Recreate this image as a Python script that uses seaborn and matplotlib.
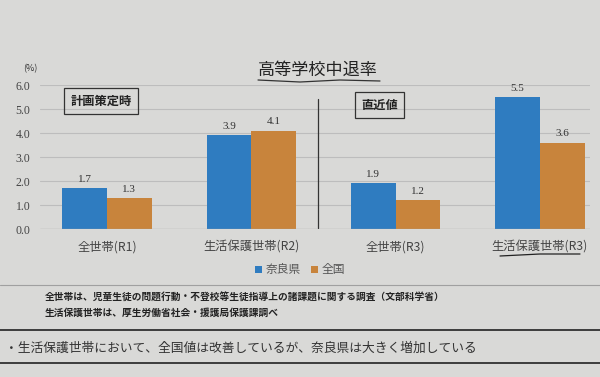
import numpy as np
import pandas as pd
import matplotlib
matplotlib.use('Agg')
import matplotlib.pyplot as plt
import seaborn as sns

# ── data ────────────────────────────────────────────────────────────
categories = ['全世帯(R1)', '生活保護世帯(R2)', '全世帯(R3)', '生活保護世帯(R3)']
series = ['奈良県', '全国']
nara = [1.7, 3.9, 1.9, 5.5]
zenkoku = [1.3, 4.1, 1.2, 3.6]
yticks = [0.0, 1.0, 2.0, 3.0, 4.0, 5.0, 6.0]

df = pd.DataFrame({
    'cat': categories * 2,
    'series': [series[0]] * 4 + [series[1]] * 4,
    'value': nara + zenkoku,
})

sns.set_theme(style='white')
plt.rcParams['font.family'] = ['Noto Sans CJK JP', 'DejaVu Sans']

BG = '#d9d9d7'
PAL = {'奈良県': '#2f7cc0', '全国': '#c8843c'}

fig = plt.figure(figsize=(6.0, 3.77), dpi=100, facecolor=BG)
ax = fig.add_axes([40 / 600, 1 - 229 / 377, 550 / 600, 144 / 377])
ax.set_facecolor(BG)

sns.barplot(data=df, x='cat', y='value', hue='series', order=categories,
            hue_order=series, palette=PAL, width=0.62, gap=0,
            saturation=1, ax=ax, legend=True, linewidth=0, edgecolor='none')

for c in ax.containers:
    ax.bar_label(c, fmt='%.1f', padding=3, fontsize=8, color='#333333',
                 family='Liberation Serif')

ax.set_ylim(0, 6.0)
ax.set_xlim(-0.464, 3.347)
ax.set_yticks(yticks)
ax.set_yticklabels([f'{v:.1f}' for v in yticks], family='Liberation Serif',
                   fontsize=8.5, color='#444444')
ax.yaxis.grid(True, color='#bdbdbd', lw=0.8)
ax.set_axisbelow(True)
for s in ax.spines.values():
    s.set_visible(False)
ax.axhline(0, color='#a8a8a8', lw=0.9)
ax.tick_params(axis='x', length=0, pad=8, labelsize=8.8, labelcolor='#444444')
ax.tick_params(axis='y', length=0, pad=7)
ax.set_xlabel('')
ax.set_ylabel('')

# period boxes and separator
box = dict(boxstyle='square,pad=0.5', fc='none', ec='#333333', lw=0.9)
ax.text(-0.04, 5.33, '計画策定時', ha='center', va='center', fontsize=8.8,
        fontweight='bold', color='#222222', bbox=box)
ax.text(1.89, 5.17, '直近値', ha='center', va='center', fontsize=8.8,
        fontweight='bold', color='#222222', bbox=box)
ax.plot([1.462, 1.462], [0.05, 5.4], color='#333333', lw=0.9)

# legend
h, l = ax.get_legend_handles_labels()
ax.get_legend().remove()
leg = fig.legend(h, l, loc='center', bbox_to_anchor=(0.5, 1 - 270 / 377),
                 ncol=2, frameon=False, fontsize=8.5, handlelength=0.6,
                 handleheight=0.6, columnspacing=0.8, handletextpad=0.3)
for t in leg.get_texts():
    t.set_color('#555555')

# titles
fig.text(318 / 600, 1 - 70 / 377, '高等学校中退率', ha='center', va='center',
         fontsize=12.3, color='#222222')
fig.text(30 / 600, 1 - 69 / 377, '(%)', ha='center', va='center',
         fontsize=6.5, color='#333333')
# hand-drawn underlines
fig.add_artist(plt.Line2D([258 / 600, 300 / 600, 340 / 600, 380 / 600],
                          [1 - 80 / 377, 1 - 82 / 377, 1 - 80 / 377, 1 - 81 / 377],
                          color='#333333', lw=0.9))
fig.add_artist(plt.Line2D([500 / 600, 540 / 600, 580 / 600],
                          [1 - 256 / 377, 1 - 254 / 377, 1 - 254 / 377],
                          color='#222222', lw=0.9))

# notes
fig.add_artist(plt.Line2D([0, 1], [1 - 285 / 377] * 2, color='#a0a0a0', lw=0.8))
fig.text(45 / 600, 1 - 298 / 377,
         '全世帯は、児童生徒の問題行動・不登校等生徒指導上の諸課題に関する調査（文部科学省）',
         ha='left', va='center', fontsize=7, fontweight='bold', color='#222222')
fig.text(45 / 600, 1 - 313 / 377, '生活保護世帯は、厚生労働省社会・援護局保護課調べ',
         ha='left', va='center', fontsize=7, fontweight='bold', color='#222222')
fig.add_artist(plt.Line2D([0, 1], [1 - 330 / 377] * 2, color='#222222', lw=1.2))
fig.text(5 / 600, 1 - 348 / 377,
         '・生活保護世帯において、全国値は改善しているが、奈良県は大きく増加している',
         ha='left', va='center', fontsize=9.2, color='#333333')
fig.add_artist(plt.Line2D([0, 1], [1 - 363 / 377] * 2, color='#222222', lw=1.2))

fig.savefig('out.png', dpi=100, facecolor=BG)
